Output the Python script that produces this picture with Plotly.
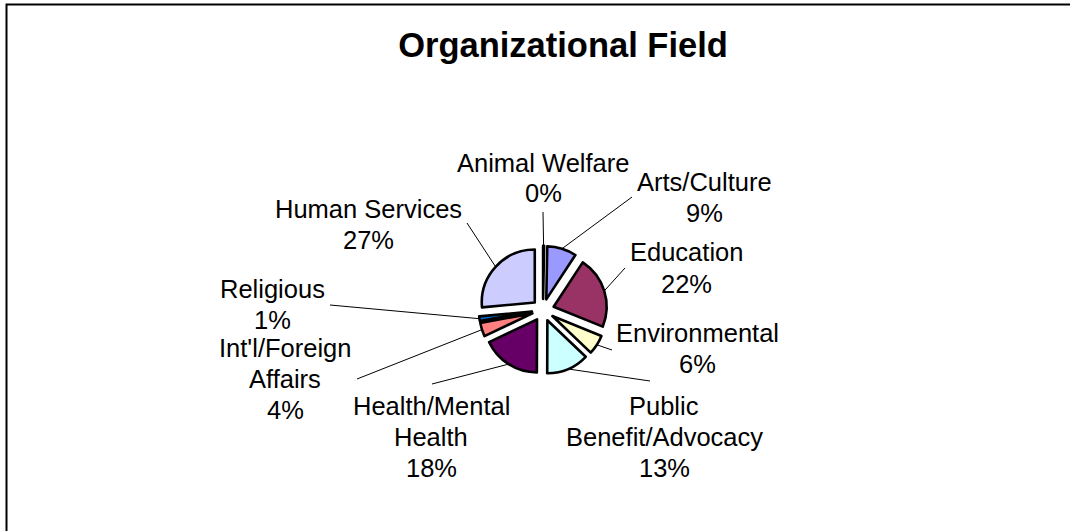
import math
import plotly.graph_objects as go

# ---- data ----
categories = ["Animal Welfare", "Arts/Culture", "Education", "Environmental",
              "Public Benefit/Advocacy", "Health/Mental Health", "Int'l/Foreign Affairs",
              "Religious", "Human Services"]
values = [0.3, 9, 22, 6, 13, 18, 4.2, 1.4, 26.6]
pct_labels = ["0%", "9%", "22%", "6%", "13%", "18%", "4%", "1%", "27%"]
label_lines = [["Animal Welfare"], ["Arts/Culture"], ["Education"], ["Environmental"],
               ["Public", "Benefit/Advocacy"], ["Health/Mental", "Health"],
               ["Int'l/Foreign", "Affairs"], ["Religious"], ["Human Services"]]

# ---- style ----
colors = ["#9999FF", "#9999FF", "#993366", "#FFFFCC", "#CCFFFF",
          "#660066", "#FF8080", "#0066CC", "#CCCCFF"]
W, H = 1070, 531
CX, CY = 543, 310          # pie centre, px
R = 53                      # pie radius, px
PULL = 0.21
LINE_H = 31                 # label line spacing, px
# label block centres (px) and leader-line outer ends (px)
label_pos = [(543, 178), (704, 197.5), (686, 268), (697, 348.5), (664, 436.5),
             (431, 436.5), (285, 379), (272, 304.5), (368, 224.5)]
leader_end = [(543, 212), (632, 197), (625, 268), (612, 350), (650, 381),
              (432, 384), (357, 379), (330, 305), (467, 223)]
FONT = "Liberation Sans, Arial, sans-serif"


def px(x, y):
    return x / W, 1 - y / H


box = R * (1 + PULL)
fig = go.Figure(go.Pie(
    labels=categories, values=values, sort=False, direction="clockwise", rotation=0,
    pull=[PULL] * len(values), textinfo="none", hoverinfo="label+percent",
    marker=dict(colors=colors, line=dict(color="black", width=2.6)),
    domain=dict(x=[(CX - box) / W, (CX + box) / W], y=[1 - (CY + box) / H, 1 - (CY - box) / H]),
    showlegend=False,
))

total = sum(values)
shapes = []
annotations = []
cum = 0.0
for i, v in enumerate(values):
    mid = (cum + v / 2) / total * 2 * math.pi
    cum += v
    dx, dy = math.sin(mid), -math.cos(mid)
    d = R * (1 + PULL)
    sx, sy = CX + d * dx, CY + d * dy
    ex, ey = leader_end[i]
    x0, y0 = px(sx, sy)
    x1, y1 = px(ex, ey)
    shapes.append(dict(type="line", xref="paper", yref="paper", x0=x0, y0=y0, x1=x1, y1=y1,
                       line=dict(color="black", width=1)))
    lines = label_lines[i] + [pct_labels[i]]
    n = len(lines)
    cxl, cyl = label_pos[i]
    for k, t in enumerate(lines):
        ly = cyl + (k - (n - 1) / 2) * LINE_H
        ax, ay = px(cxl, ly)
        annotations.append(dict(x=ax, y=ay, xref="paper", yref="paper", xanchor="center",
                                yanchor="middle", showarrow=False, text=t,
                                font=dict(family=FONT, size=25.5, color="black")))

# frame
fx0, fy0 = px(6.5, 4.5)
fx1, fy1 = px(1090, 560)
shapes.append(dict(type="rect", xref="paper", yref="paper", x0=fx0, y0=fy1, x1=fx1, y1=fy0,
                   line=dict(color="black", width=2), layer="below"))

fig.update_layout(
    width=W, height=H, margin=dict(l=0, r=0, t=0, b=0),
    paper_bgcolor="white", plot_bgcolor="white",
    title=dict(text="<b>Organizational Field</b>", x=563 / W, xanchor="center",
               y=1 - 45 / H, yanchor="middle", yref="container",
               font=dict(family=FONT, size=34.5, color="black")),
    shapes=shapes, annotations=annotations,
)

fig.write_html("out.html")
